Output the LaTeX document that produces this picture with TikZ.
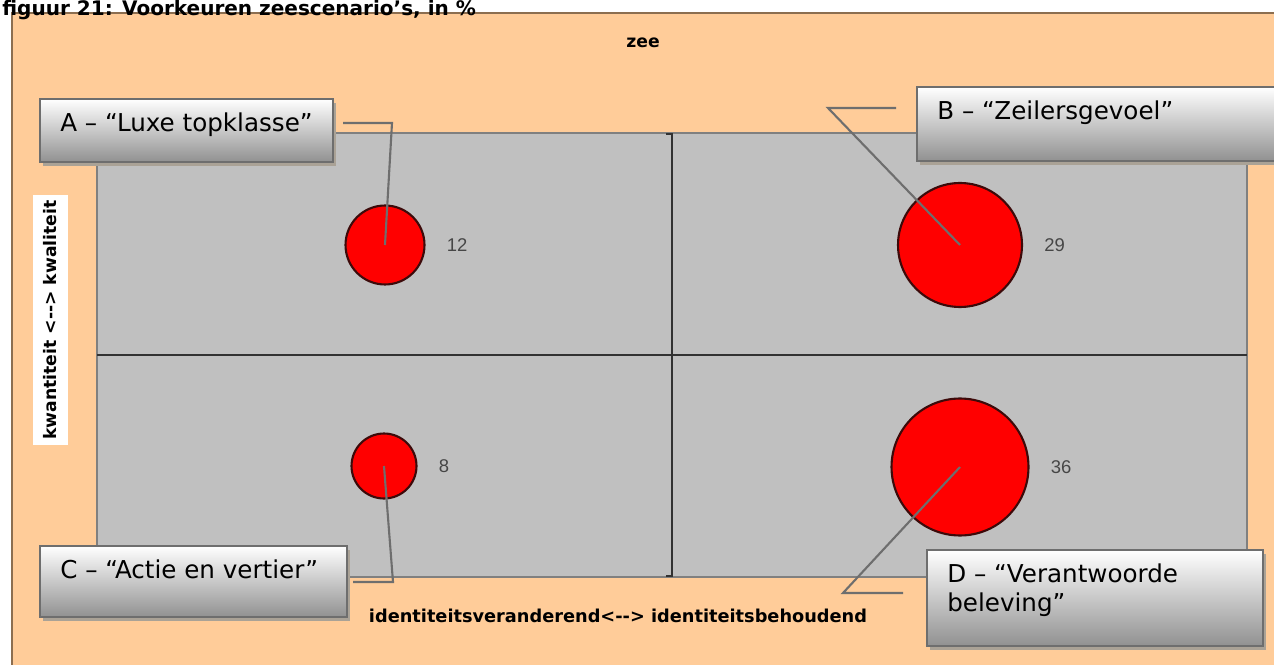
\documentclass[tikz,border=0pt]{standalone}
\usepackage{fontspec}
\setmainfont{DejaVu Sans}
\newfontfamily\arialfont{Liberation Sans}
\usetikzlibrary{positioning,shadows}
\definecolor{peach}{RGB}{255,204,153}
\definecolor{panelline}{RGB}{140,110,80}
\definecolor{plotgray}{RGB}{192,192,192}
\definecolor{plotline}{RGB}{128,128,128}
\definecolor{axisline}{RGB}{50,50,50}
\definecolor{leadgray}{RGB}{110,110,110}
\definecolor{boxbottom}{RGB}{145,145,145}
\definecolor{shadowc}{RGB}{170,162,150}
\definecolor{valgray}{RGB}{70,70,70}
\definecolor{bubblered}{RGB}{255,0,0}
\definecolor{bubbleline}{RGB}{60,10,10}

\begin{document}
\begin{tikzpicture}[x=0.02cm,y=-0.02cm,thin]
\tikzstyle{every node}=[inner sep=0pt]
\tikzstyle{bubble}=[circle,fill=bubblered,draw=bubbleline,line width=1.2pt]
\tikzstyle{value}=[font=\arialfont\fontsize{10.5}{12}\selectfont,text=valgray]
\tikzstyle{callout}=[rectangle,draw=leadgray,line width=1.2pt,top color=white,bottom color=boxbottom,drop shadow={shadow xshift=0.06cm,shadow yshift=-0.08cm,fill=shadowc,opacity=1}]
\tikzstyle{calltext}=[anchor=north west,align=left,font=\fontsize{14}{16.3}\selectfont]
\tikzstyle{axislabel}=[font=\bfseries\fontsize{9.8}{12}\selectfont]
\tikzstyle{leader}=[draw=leadgray,line width=1.2pt]

\useasboundingbox (0,0) rectangle (1274,665);
\fill[white] (0,0) rectangle (1274,665);
\draw[fill=peach,draw=panelline,line width=1.1pt] (12,13) rectangle (1290,680);
\node[anchor=base west,font=\bfseries\fontsize{11.4}{13}\selectfont] (title) at (2,16) {figuur 21: Voorkeuren zeescenario's, in \%};

\draw[fill=plotgray,draw=plotline,line width=1.1pt] (97,133) rectangle (1247,577);
\draw[axisline,line width=1.1pt] (97,355) -- (1247,355);
\draw[axisline,line width=1.1pt] (666,134) -- (672,134) -- (672,576) -- (666,576);

\node[axislabel,anchor=base] (zee) at (643,48) {zee};
\node[axislabel,anchor=base,font=\bfseries\fontsize{10.1}{12}\selectfont] (xlab) at (618,622) {identiteitsveranderend<-{}-> identiteitsbehoudend};
\node[axislabel,fill=white,rotate=90,minimum width=5cm,minimum height=0.7cm] (ylab) at (50.5,320) {kwantiteit <-{}-> kwaliteit};

\node[bubble,minimum size=1.58cm] (A) at (385,245) {};
\node[bubble,minimum size=2.48cm] (B) at (960,245) {};
\node[bubble,minimum size=1.30cm] (C) at (384,466) {};
\node[bubble,minimum size=2.74cm] (D) at (960,467) {};
\node[value,right=0.42cm of A] (vA) {12};
\node[value,right=0.42cm of B] (vB) {29};
\node[value,right=0.42cm of C] (vC) {8};
\node[value,right=0.42cm of D] (vD) {36};

\coordinate (kA) at (343,123);
\coordinate (kB) at (896,108);
\coordinate (kC) at (353,582);
\coordinate (kD) at (903,593);
\draw[leader] (kA) -- ++(49,0) -- (A.center);
\draw[leader] (kB) -- ++(-68,0) -- (B.center);
\draw[leader] (kC) -- ++(40,0) -- (C.center);
\draw[leader] (kD) -- ++(-60,0) -- (D.center);

\node[callout,minimum width=5.86cm,minimum height=1.26cm] (bA) at (186.5,130.5) {};
\node[callout,minimum width=7.46cm,minimum height=1.48cm] (bB) at (1103.5,124) {};
\node[callout,minimum width=6.14cm,minimum height=1.42cm] (bC) at (193.5,581.5) {};
\node[callout,minimum width=6.72cm,minimum height=1.92cm] (bD) at (1095,598) {};
\node[calltext] (tA) at ([xshift=0.42cm,yshift=-0.30cm]bA.north west) {A – “Luxe topklasse”};
\node[calltext] (tB) at ([xshift=0.42cm,yshift=-0.30cm]bB.north west) {B – “Zeilersgevoel”};
\node[calltext] (tC) at ([xshift=0.42cm,yshift=-0.30cm]bC.north west) {C – “Actie en vertier”};
\node[calltext] (tD) at ([xshift=0.42cm,yshift=-0.30cm]bD.north west) {D – “Verantwoorde\\beleving”};
\end{tikzpicture}
\end{document}
